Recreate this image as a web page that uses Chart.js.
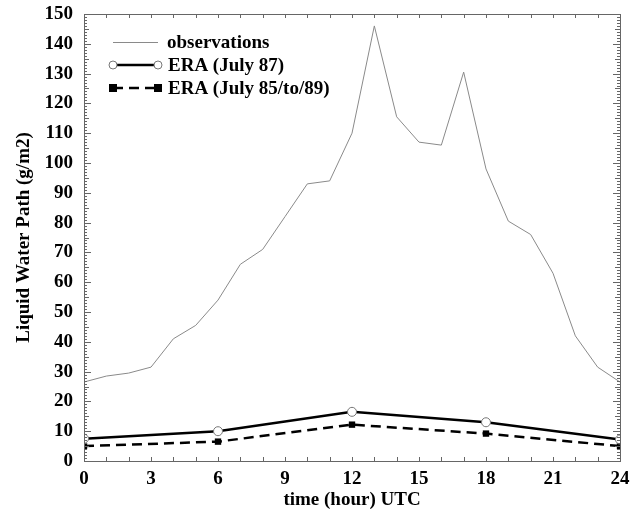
<!DOCTYPE html>
<html>
<head>
<meta charset="utf-8">
<script src="https://cdn.jsdelivr.net/npm/chart.js@4.4.1/dist/chart.umd.min.js"></script>
<style>
  html, body { margin: 0; padding: 0; background: #fff; }
  #wrap { width: 634px; height: 517px; position: relative; }
</style>
</head>
<body>
<div id="wrap"><canvas id="lwpChart"></canvas></div>
<script>
// ========== Data ==========
const obsHours = [0, 1, 2, 3, 4, 5, 6, 7, 8, 9, 10, 11, 12, 13, 14, 15, 16, 17, 18, 19, 20, 21, 22, 23, 24];
const obsValues = [26.5, 28.5, 29.5, 31.5, 41, 45.5, 54, 66, 71, 82, 93, 94, 110, 146, 115.5, 107, 106, 130.5, 98, 80.5, 76, 63, 42, 31.5, 26.5];
const eraHours = [0, 6, 12, 18, 24];
const era87 = [7.5, 10, 16.5, 13, 7.2];
const era8589 = [5, 6.5, 12.2, 9.2, 5];
const xTicks = [0, 3, 6, 9, 12, 15, 18, 21, 24];
const yTicks = [0, 10, 20, 30, 40, 50, 60, 70, 80, 90, 100, 110, 120, 130, 140, 150];
const legendLabels = ['observations', 'ERA (July 87)', 'ERA (July 85/to/89)'];

const FONT = '"Liberation Serif", "Times New Roman", serif';
const pairs = (xs, ys) => xs.map((x, i) => ({ x: x, y: ys[i] }));

// ========== Plugins ==========
// frame + inward tick marks on all four sides
const frameTicks = {
  id: 'frameTicks',
  afterDatasetsDraw(chart) {
    const { ctx, chartArea: a, scales } = chart;
    const xs = scales.x, ys = scales.y;
    ctx.save();
    ctx.strokeStyle = '#666';
    ctx.lineWidth = 1;
    ctx.strokeRect(a.left + 0.5, a.top + 0.5, a.right - a.left, a.bottom - a.top);
    ctx.beginPath();
    for (let h = 0; h <= 24; h++) {
      const px = Math.round(xs.getPixelForValue(h)) + 0.5;
      const len = 4;
      ctx.moveTo(px, a.bottom); ctx.lineTo(px, a.bottom - len);
      ctx.moveTo(px, a.top); ctx.lineTo(px, a.top + len);
    }
    for (let v = 0; v <= 150; v++) {
      const py = Math.round(ys.getPixelForValue(v)) + 0.5;
      const len = v % 10 === 0 ? 7 : (v % 5 === 0 ? 5 : 3);
      ctx.moveTo(a.left, py); ctx.lineTo(a.left + len, py);
      ctx.moveTo(a.right, py); ctx.lineTo(a.right - len, py);
    }
    ctx.stroke();
    ctx.restore();
  }
};

// legend drawn inside the plot, top-left
const innerLegend = {
  id: 'innerLegend',
  afterDraw(chart) {
    const { ctx } = chart;
    const rows = [42, 65, 88];
    const x0 = 113, x1 = 158, tx = 168;
    ctx.save();
    // observations
    ctx.strokeStyle = '#8a8a8a';
    ctx.lineWidth = 1;
    ctx.beginPath(); ctx.moveTo(x0, rows[0] + 0.5); ctx.lineTo(x1, rows[0] + 0.5); ctx.stroke();
    // ERA July 87
    ctx.strokeStyle = '#000';
    ctx.lineWidth = 2.5;
    ctx.beginPath(); ctx.moveTo(x0, rows[1]); ctx.lineTo(x1, rows[1]); ctx.stroke();
    ctx.lineWidth = 1;
    ctx.strokeStyle = '#777';
    ctx.fillStyle = '#fff';
    [x0, x1].forEach(x => { ctx.beginPath(); ctx.arc(x, rows[1], 4, 0, Math.PI * 2); ctx.fill(); ctx.stroke(); });
    // ERA July 85-89
    ctx.strokeStyle = '#000';
    ctx.lineWidth = 2.5;
    ctx.setLineDash([10, 6]);
    ctx.beginPath(); ctx.moveTo(x0, rows[2]); ctx.lineTo(x1, rows[2]); ctx.stroke();
    ctx.setLineDash([]);
    ctx.fillStyle = '#000';
    [x0, x1].forEach(x => ctx.fillRect(x - 4, rows[2] - 4, 8, 8));
    // texts
    ctx.fillStyle = '#000';
    ctx.font = 'bold 19px ' + FONT;
    ctx.textBaseline = 'middle';
    legendLabels.forEach((t, i) => ctx.fillText(t, i === 0 ? tx - 1 : tx, rows[i] + 1));
    ctx.restore();
  }
};

// ========== Chart ==========
const ctx = document.getElementById('lwpChart').getContext('2d');
const lwpChart = new Chart(ctx, {
  type: 'line',
  data: {
    datasets: [
      {
        label: legendLabels[0],
        data: pairs(obsHours, obsValues),
        borderColor: '#8a8a8a',
        borderWidth: 1,
        pointRadius: 0,
        tension: 0
      },
      {
        label: legendLabels[1],
        data: pairs(eraHours, era87),
        borderColor: '#000',
        borderWidth: 2.5,
        pointStyle: 'circle',
        pointRadius: 4.5,
        pointBackgroundColor: '#fff',
        pointBorderColor: '#777',
        pointBorderWidth: 1,
        tension: 0
      },
      {
        label: legendLabels[2],
        data: pairs(eraHours, era8589),
        borderColor: '#000',
        borderWidth: 2.5,
        borderDash: [10, 6],
        pointStyle: 'rect',
        pointRadius: 4.5,
        pointBackgroundColor: '#000',
        pointBorderColor: '#000',
        pointBorderWidth: 0,
        tension: 0
      }
    ]
  },
  options: {
    responsive: true,
    maintainAspectRatio: false,
    animation: false,
    devicePixelRatio: 1,
    layout: { padding: { top: 14, right: 14, left: 0, bottom: 0 } },
    plugins: { legend: { display: false }, tooltip: { enabled: false } },
    scales: {
      x: {
        type: 'linear',
        min: 0,
        max: 24,
        afterBuildTicks: s => { s.ticks = xTicks.map(v => ({ value: v })); },
        afterFit: s => { s.height = 56; s.paddingLeft = 0; s.paddingRight = 0; },
        grid: { display: false, drawTicks: false },
        border: { display: false },
        ticks: { color: '#000', padding: 7, maxRotation: 0, font: { family: FONT, size: 19, weight: 'bold' } },
        title: { display: true, text: 'time (hour) UTC', color: '#000', padding: { top: 0, bottom: 6 }, font: { family: FONT, size: 19, weight: 'bold' } }
      },
      y: {
        min: 0,
        max: 150,
        afterBuildTicks: s => { s.ticks = yTicks.map(v => ({ value: v })); },
        afterFit: s => { s.width = 84; s.paddingTop = 0; s.paddingBottom = 0; },
        grid: { display: false, drawTicks: false },
        border: { display: false },
        ticks: { color: '#000', padding: 11, font: { family: FONT, size: 19, weight: 'bold' } },
        title: { display: true, text: 'Liquid Water Path (g/m2)', color: '#000', padding: { top: 13, bottom: 0 }, font: { family: FONT, size: 19, weight: 'bold' } }
      }
    }
  },
  plugins: [frameTicks, innerLegend]
});
</script>
</body>
</html>
